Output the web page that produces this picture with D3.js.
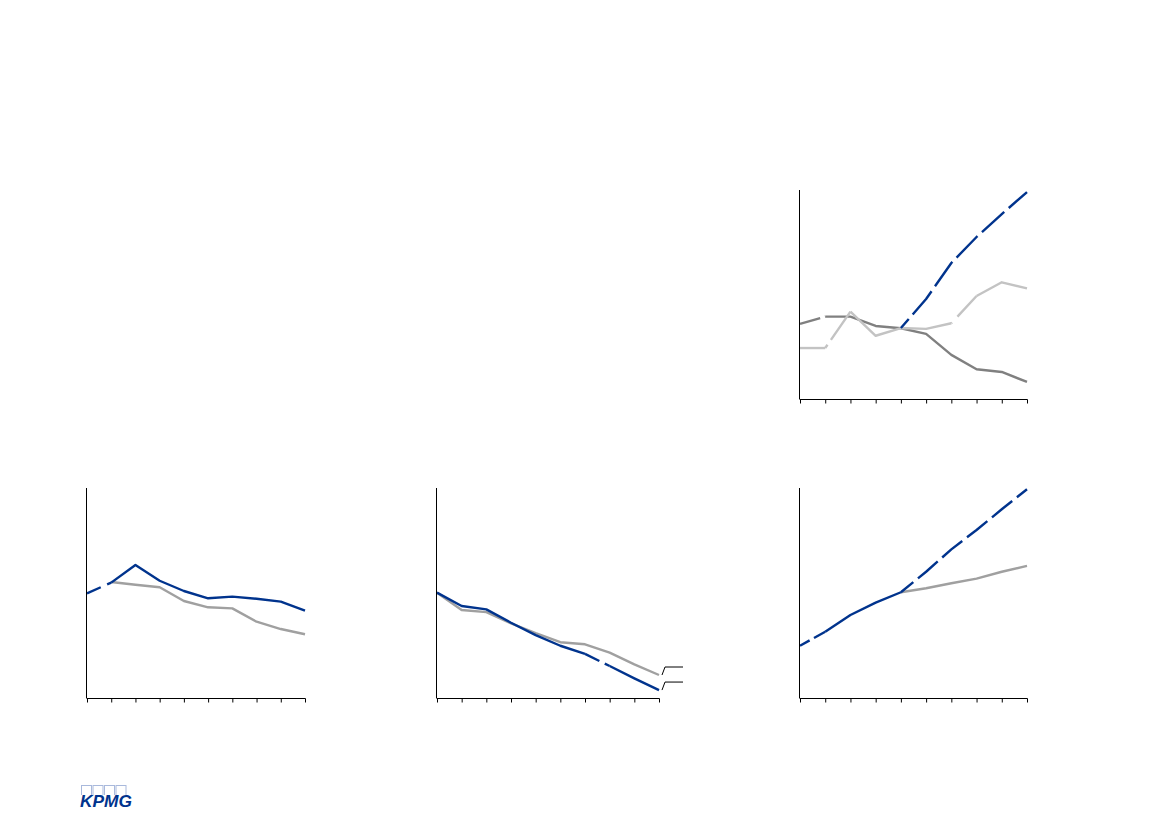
<!DOCTYPE html>
<html>
<head>
<meta charset="utf-8">
<script src="https://cdn.jsdelivr.net/npm/d3@7/dist/d3.min.js"></script>
<style>
  html, body { margin: 0; padding: 0; background: #ffffff; }
  svg { display: block; }
</style>
</head>
<body>
<svg id="chart" width="1169" height="827"></svg>
<script>
// ---------------- DATA ----------------
const periods = ["P1","P2","P3","P4","P5","P6","P7","P8","P9","P10"];

// Chart A (top right)
const chartA_blue  = [null, null, null, null, 34.1, 48.1, 65.4, 77.9, 88.9, 99.5];
const chartA_light = [24.5, 24.5, 42.0, 30.4, 34.1, 33.7, 36.4, 49.5, 56.1, 53.2];
const chartA_dark  = [36.1, 39.6, 39.6, 35.1, 34.0, 31.3, 21.2, 14.3, 13.0, 8.2];

// Chart B (bottom left)
const chartB_blue  = [50.1, 55.2, 63.6, 56.1, 51.2, 47.7, 48.5, 47.5, 46.1, 41.8];
const chartB_grey  = [null, 55.5, 54.2, 53.0, 46.4, 43.4, 42.9, 36.5, 33.0, 30.5];

// Chart C (bottom middle)
const chartC_blue  = [50.4, 44.0, 42.4, 36.0, 30.1, 25.0, 21.1, 15.3, 9.4, 3.8];
const chartC_grey  = [50.4, 42.1, 41.1, 35.7, 31.0, 26.7, 25.7, 21.7, 16.1, 11.0];

// Chart D (bottom right)
const chartD_blue  = [25.0, 31.7, 39.7, 45.6, 50.6, 60.4, 71.1, 80.4, 90.3, 99.9];
const chartD_grey  = [null, null, null, null, 50.6, 52.5, 54.9, 57.1, 60.4, 63.2];

// ---------------- STYLE / LAYOUT ----------------
const BLUE = "#00338D", GREY = "#a0a0a0", LIGHT = "#c3c3c3", DARK = "#808080";

const charts = [
  { x0: 800, x1: 1027, top: 191, bottom: 399,
    series: [
      { values: chartA_dark,  color: DARK,  runs: [{from:0,to:1,dash:"21,5"}] },
      { values: chartA_light, color: LIGHT, runs: [{from:1,to:2,dash:"4,6,200"},{from:6,to:7,dash:"1,8,200"}] },
      { values: chartA_blue,  color: BLUE,  runs: [{from:4,to:9,dash:"30,6",offset:18}] }
    ] },
  { x0: 87, x1: 305, top: 489, bottom: 698,
    series: [
      { values: chartB_grey, color: GREY, runs: [] },
      { values: chartB_blue, color: BLUE, runs: [{from:0,to:1,dash:"15,7,200"}] }
    ] },
  { x0: 437, x1: 659, top: 489, bottom: 698,
    series: [
      { values: chartC_grey, color: GREY, runs: [] },
      { values: chartC_blue, color: BLUE, runs: [{from:6,to:7,dash:"16,6,200"}] }
    ],
    leaders: [chartC_grey, chartC_blue] },
  { x0: 800, x1: 1027, top: 489, bottom: 698,
    series: [
      { values: chartD_grey, color: GREY, runs: [] },
      { values: chartD_blue, color: BLUE, runs: [{from:0,to:1,dash:"11,5,200"},{from:4,to:9,dash:"26,6",offset:10}] }
    ] }
];

const svg = d3.select("#chart");

charts.forEach(c => {
  const x = d3.scalePoint().domain(periods).range([c.x0, c.x1]).padding(0);
  const y = d3.scaleLinear().domain([0, 100]).range([c.bottom, c.top]);
  const g = svg.append("g");

  // lines
  c.series.forEach(s => {
    const pts = s.values.map((v, i) => ({ i, v })).filter(d => d.v != null);
    const line = d3.line().x(d => x(periods[d.i])).y(d => y(d.v));
    // build segments, each either solid or belonging to a dashed run
    const first = pts[0].i, last = pts[pts.length - 1].i;
    let idx = first;
    const pieces = [];
    while (idx < last) {
      const run = s.runs.find(r => r.from === idx);
      if (run) { pieces.push({ from: run.from, to: run.to, run }); idx = run.to; }
      else {
        let end = idx + 1;
        while (end < last && !s.runs.find(r => r.from === end)) end++;
        pieces.push({ from: idx, to: end, run: null }); idx = end;
      }
    }
    pieces.forEach(p => {
      const seg = pts.filter(d => d.i >= p.from && d.i <= p.to);
      const path = g.append("path")
        .attr("d", line(seg))
        .attr("fill", "none")
        .attr("stroke", s.color)
        .attr("stroke-width", 2.4)
        .attr("stroke-linejoin", "round");
      if (p.run) {
        path.attr("stroke-dasharray", p.run.dash);
        if (p.run.offset) path.attr("stroke-dashoffset", p.run.offset);
      }
    });
  });

  // y axis line (no ticks)
  g.append("line")
    .attr("x1", c.x0 - 0.5).attr("x2", c.x0 - 0.5)
    .attr("y1", c.top - 1).attr("y2", c.bottom)
    .attr("stroke", "#000").attr("stroke-width", 1);

  // x axis with ticks, no labels
  const xAxis = d3.axisBottom(x).tickSize(4).tickSizeOuter(0).tickFormat("");
  const ax = g.append("g").attr("transform", `translate(0,${c.bottom + 0.5})`).call(xAxis);
  ax.select(".domain").attr("stroke", "#000").attr("stroke-width", 1)
    .attr("d", `M${c.x0 - 0.5},0H${c.x1 + 0.5}`);
  ax.selectAll(".tick line").attr("stroke", "#000").attr("stroke-width", 1);

  // leader lines for end labels
  if (c.leaders) {
    c.leaders.forEach(vals => {
      const yEnd = y(vals[vals.length - 1]);
      const xs = c.x1 + 3;
      g.append("path")
        .attr("d", `M${xs},${yEnd}L${xs + 3},${yEnd - 8}H${xs + 21}`)
        .attr("fill", "none").attr("stroke", "#000").attr("stroke-width", 1);
    });
  }
});

// ---------------- LOGO ----------------
const logo = svg.append("g").attr("transform", "translate(80,785)");
[0, 1, 2, 3].forEach(k => {
  logo.append("rect")
    .attr("x", 1.5 + k * 11.5).attr("y", 0.5)
    .attr("width", 10).attr("height", 16)
    .attr("fill", "none").attr("stroke", "#a9b9dc").attr("stroke-width", 1);
});
logo.append("rect").attr("x", 0).attr("y", 10).attr("width", 54).attr("height", 13).attr("fill", "#fff");
logo.append("text")
  .attr("x", 0).attr("y", 22)
  .attr("font-family", "Liberation Sans, Arial, sans-serif")
  .attr("font-weight", "bold").attr("font-style", "italic")
  .attr("font-size", 17)
  .attr("textLength", 52).attr("lengthAdjust", "spacingAndGlyphs")
  .attr("fill", BLUE)
  .text("KPMG");
</script>
</body>
</html>
